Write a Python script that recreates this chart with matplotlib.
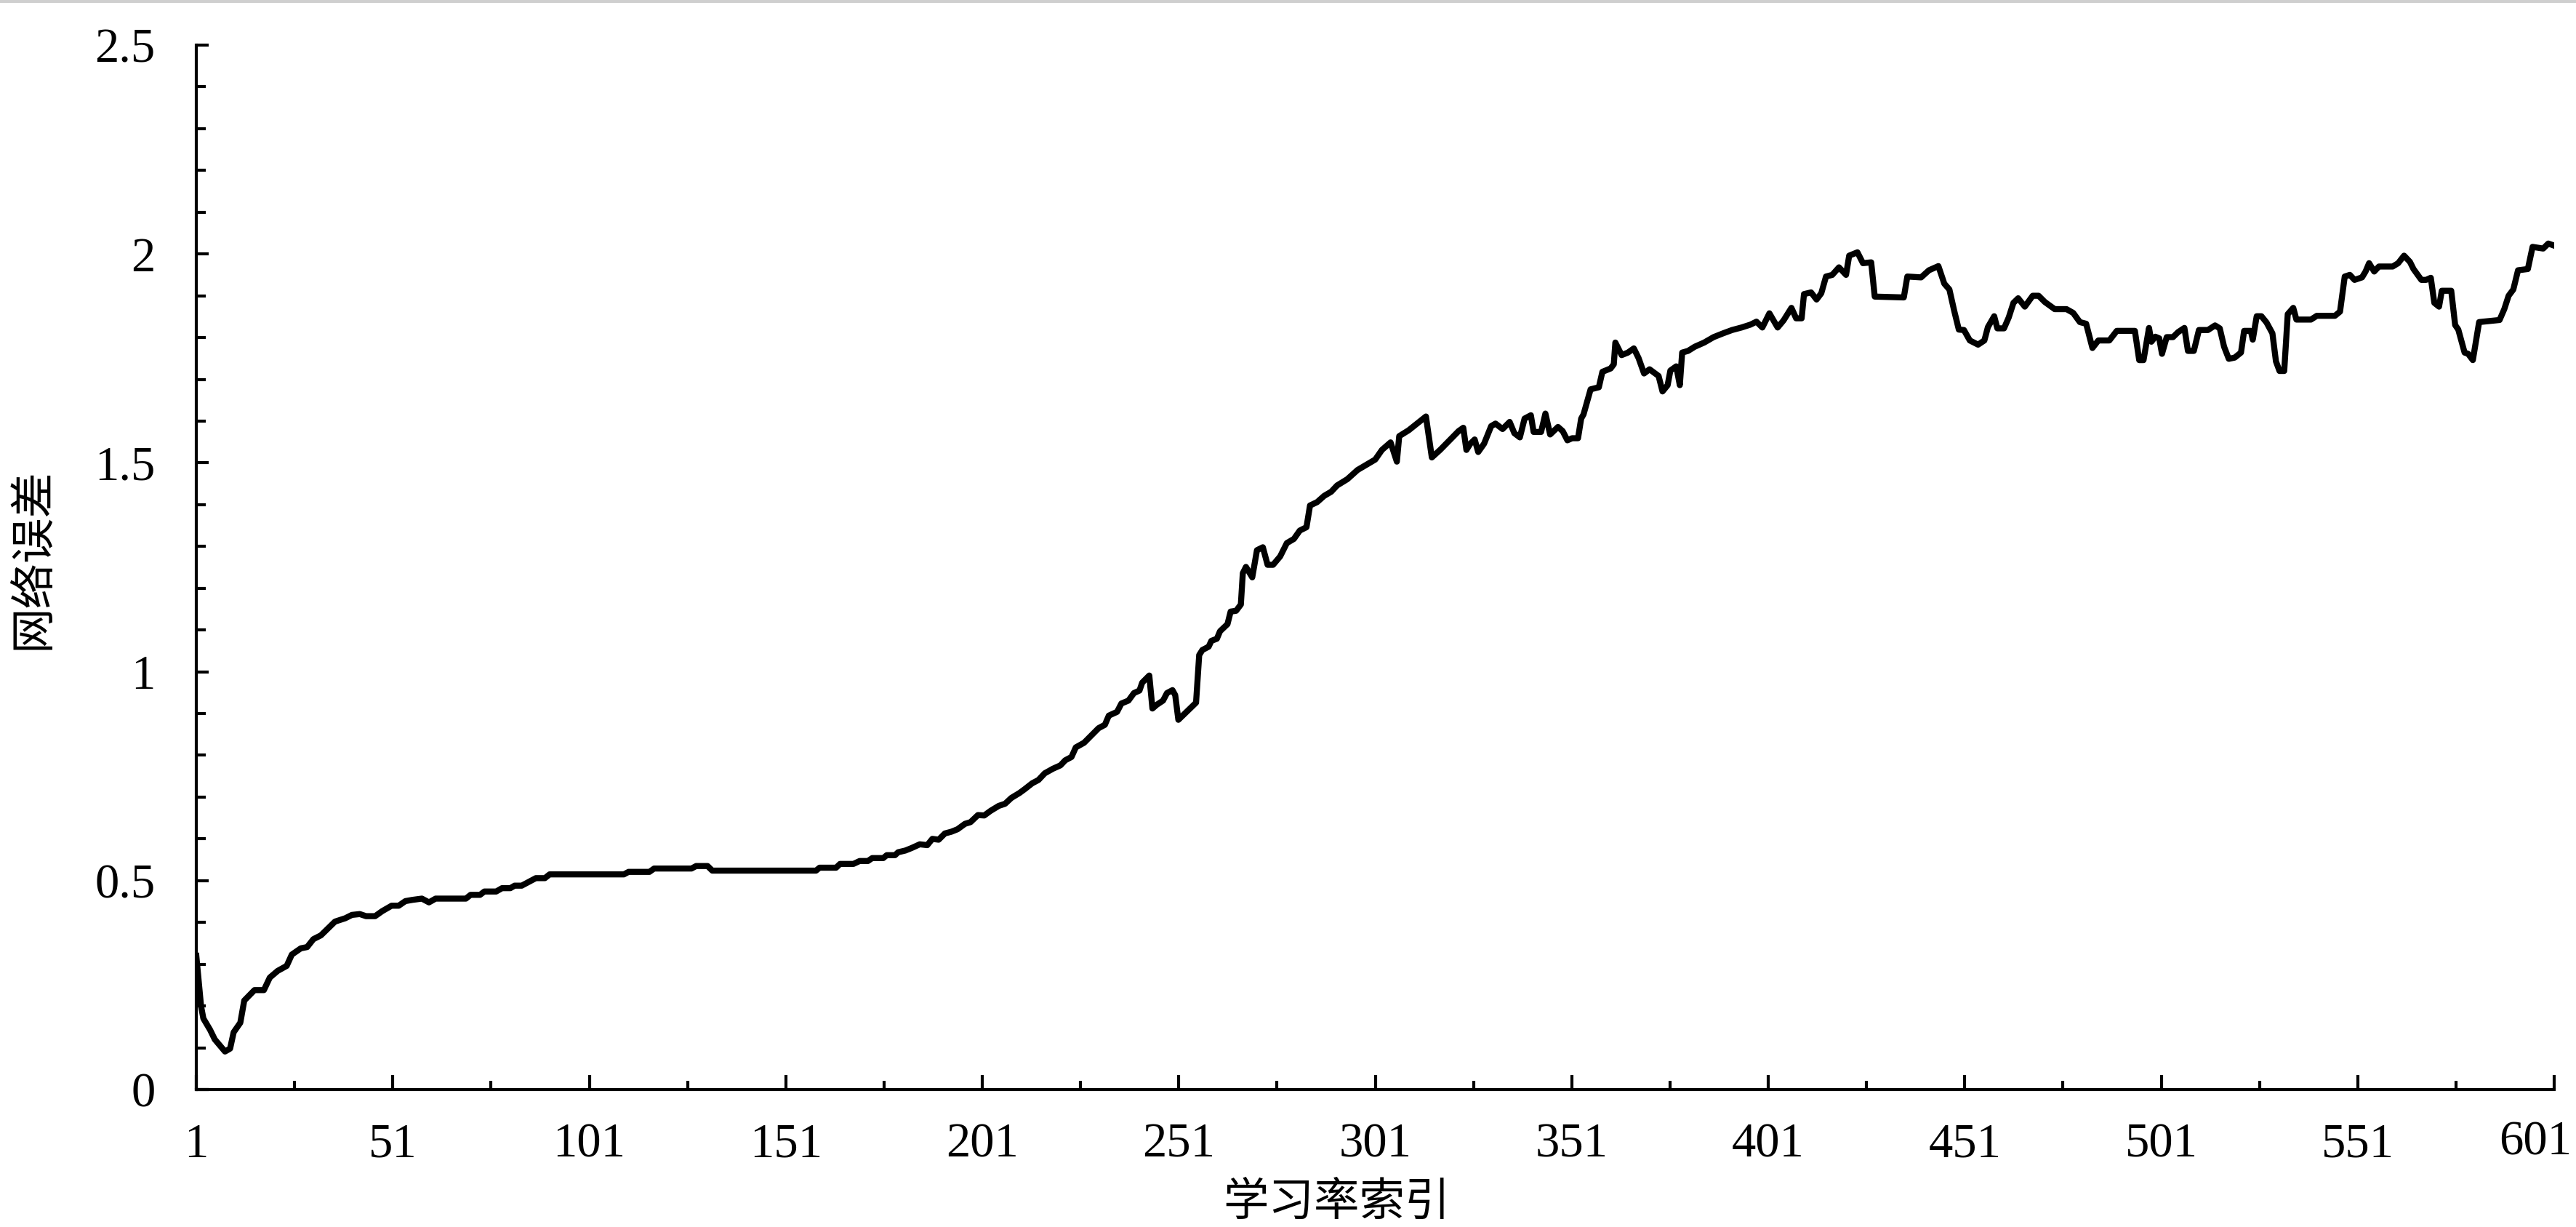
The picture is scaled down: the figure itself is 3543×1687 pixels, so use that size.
import numpy as np
import matplotlib
matplotlib.use("Agg")
import matplotlib.pyplot as plt
import matplotlib.transforms as mtransforms
from matplotlib.ticker import MultipleLocator, FixedLocator, FuncFormatter
from matplotlib.lines import Line2D

# 学习率索引 vs 网络误差
idx = [1, 2.2, 2.8, 4.5, 5.7, 8.3, 9.6, 10.5, 12.2, 13.2, 15.8, 18.2, 19.7, 21.7, 24, 25.3,
       27.6, 29.2, 30.8, 32.7, 36.3, 38.9, 40.6, 42.6, 44.2, 46.5, 48.3, 50.7, 52.5, 54.2,
       56, 58.4, 60.2, 61.9, 69.6, 70.8, 73.2, 74.3, 77.3, 78.8, 80.9, 82, 83.8, 85.6, 87.4,
       89.7, 90.9, 109.8, 111, 116.3, 117.5, 127, 128.2, 131.1, 132.3, 158.7,
       159.6, 163.8, 164.8, 168.2, 169.8, 171.9, 173, 175.8, 176.7, 178.8, 179.6, 181.4, 183,
       185.1, 187, 188.3, 189.9, 191.5, 193.1, 194.7, 196.6, 198, 199.9, 201.5, 203.1, 205.2,
       206.8, 208.4, 210.5, 211.8, 213.7, 215.3, 216.9, 219, 220.9, 222.1, 223.7, 224.8,
       226.9, 229, 230.6, 232.2, 233.2, 235.3, 236.4, 238.2, 239.6, 241, 241.7, 243.5, 244.3,
       245.4, 247, 248, 249.4, 250.1, 250.9, 255.4, 256.2, 257, 258.6, 259.3, 260.7, 261.5,
       263.4, 264.2, 265.6,
       266.8, 267.3, 268.1, 269.7, 270.9, 272.4, 273.6, 275, 276.8, 278.5, 280.3, 281.8, 283.5,
       284.4, 286.2, 288, 289.8, 291.3, 293.9, 296.5, 299.2, 301, 302.7, 304.9, 306.5, 307.1,
       309.5, 311.5, 313.9, 315.4, 317.5, 322.2, 323.4, 324.2, 325.2, 326.3, 327.2, 328.7,
       330.5, 331.6, 333.4, 335.2, 336.4, 337.8, 339, 340.6, 341.3, 343.2, 344.3, 345.5, 347.5,
       348.7, 349.9, 351.1, 352.6, 353.4, 354, 355.8, 357.9, 358.8, 360.9, 361.7, 362.1, 363.7,
       365.3, 366.8, 368, 369.4, 370.8, 373.1, 374.1, 375.4, 376.1, 377.6, 378.5, 379.1, 380.6,
       382.3, 384.7, 387.1, 389.5, 391.8, 394.2, 396.5, 398, 399.5, 401.3, 403.4, 404.9, 406.9,
       408.1, 409.5, 410.1, 411.9, 413.3, 414.5, 415.7, 417.3, 419, 420.8, 421.6, 423.7, 425.1,
       427.2, 428.1, 435.5, 436.4, 439.9, 441.9, 444.3,
       445.8, 447.1, 448.3, 449.5, 450.8, 452.3, 454.4, 456, 456.9, 458.5, 459.3, 461, 462.2,
       463.4, 464.6, 466.3, 468.3, 469.8, 471.4, 473.9, 476.9, 478.6, 480.3, 481.9, 483.5, 485,
       487.8, 489.7, 494.3, 495.4, 496.5, 497.9, 498.5, 499.5, 500.5, 501.2, 502.4, 504, 505.3,
       506.9, 507.8, 509.3, 510.6, 512.9, 514.7, 515.9, 517, 518.2, 519.7, 521.3, 522.1, 523.8,
       524.3, 525.3, 526.5, 527.8, 529.3, 530.2, 531.1, 532.3, 533.2, 534.6, 535.4, 539.1,
       540.6, 545.2, 546.5, 547.7, 549, 550.2, 552.1, 553, 553.9, 555.2, 556.4, 559.9, 561.3,
       562.8, 564.3, 565.2, 567.2, 568.4, 569.6, 570.5, 571.7, 572.4, 574.8, 575.8, 576.6,
       578.2, 579.1, 580.3, 581.9, 587.1, 588.3, 589.4, 590.6, 591.8, 594.3, 595.5, 598.2,
       599.5, 600.7]

err = [0.32, 0.20, 0.17, 0.143, 0.12, 0.091, 0.098, 0.137, 0.16, 0.213, 0.238, 0.238, 0.268,
       0.284, 0.296, 0.323, 0.338, 0.341, 0.36, 0.369, 0.402, 0.41, 0.418, 0.42, 0.415, 0.415,
       0.427, 0.44, 0.44, 0.451, 0.454, 0.457, 0.448, 0.457, 0.457, 0.466, 0.466, 0.474, 0.474,
       0.482, 0.482, 0.488, 0.488, 0.497, 0.506, 0.506, 0.515, 0.515, 0.521, 0.521, 0.529, 0.529,
       0.535, 0.535, 0.524, 0.524,
       0.531, 0.531, 0.540, 0.540, 0.547, 0.547, 0.554, 0.554, 0.561, 0.561, 0.568, 0.572,
       0.578, 0.587, 0.585, 0.600, 0.598, 0.613, 0.617, 0.623, 0.636, 0.640, 0.657, 0.656,
       0.667, 0.679, 0.684, 0.698, 0.710, 0.719, 0.733, 0.741, 0.757, 0.768, 0.776, 0.788,
       0.796, 0.819, 0.830, 0.850, 0.865, 0.873, 0.895, 0.904, 0.924, 0.931, 0.949, 0.955,
       0.974, 0.991, 0.912, 0.921, 0.931, 0.949, 0.956, 0.944, 0.885, 0.926, 1.040, 1.052,
       1.060, 1.074, 1.079, 1.097, 1.114, 1.144, 1.146,
       1.161, 1.236, 1.251, 1.226, 1.291, 1.298, 1.256, 1.256, 1.276, 1.308, 1.318, 1.338,
       1.346, 1.398, 1.406, 1.421, 1.431, 1.446, 1.461, 1.483, 1.498, 1.508, 1.531, 1.549,
       1.503, 1.564, 1.578, 1.593, 1.611, 1.513, 1.531, 1.576, 1.584, 1.531, 1.546, 1.556,
       1.526, 1.546, 1.588, 1.594, 1.581, 1.598, 1.571, 1.561, 1.606, 1.614, 1.574, 1.574,
       1.618, 1.568, 1.586, 1.576, 1.554, 1.559, 1.559, 1.606, 1.616, 1.676, 1.681, 1.718,
       1.726, 1.736, 1.788, 1.758, 1.764, 1.774, 1.751, 1.714, 1.724, 1.708, 1.671, 1.686,
       1.721, 1.731, 1.686, 1.764, 1.768, 1.778, 1.788, 1.801, 1.810, 1.818, 1.824, 1.831,
       1.838, 1.824, 1.858, 1.824, 1.841, 1.871, 1.846, 1.846, 1.904, 1.908, 1.891, 1.906,
       1.946, 1.950, 1.968, 1.950, 1.996, 2.004, 1.978, 1.98, 1.898, 1.896, 1.946, 1.944,
       1.961, 1.971,
       1.929, 1.915, 1.865, 1.819, 1.818, 1.793, 1.783, 1.793, 1.825, 1.851, 1.822, 1.822,
       1.848, 1.883, 1.894, 1.874, 1.900, 1.900, 1.885, 1.868, 1.868, 1.859, 1.837, 1.833,
       1.775, 1.793, 1.793, 1.816, 1.816, 1.746, 1.746, 1.823, 1.790, 1.802, 1.798, 1.761,
       1.801, 1.801, 1.813, 1.823, 1.768, 1.768, 1.818, 1.818, 1.829, 1.822, 1.778, 1.749,
       1.752, 1.764, 1.816, 1.816, 1.795, 1.851, 1.851, 1.836, 1.810, 1.743, 1.720, 1.720,
       1.856, 1.871, 1.843, 1.843, 1.852, 1.852, 1.862, 1.946, 1.95, 1.938, 1.944, 1.958,
       1.978, 1.958, 1.970, 1.970, 1.978, 1.996, 1.981, 1.964, 1.938, 1.938, 1.943, 1.883,
       1.874, 1.912, 1.912, 1.830, 1.819, 1.764, 1.761, 1.746, 1.837, 1.842, 1.868, 1.900,
       1.915, 1.961, 1.964, 2.017, 2.013, 2.025, 2.021]

x_major = [1, 51, 101, 151, 201, 251, 301, 351, 401, 451, 501, 551, 601]
x_minor = [26, 76, 126, 176, 226, 276, 326, 376, 426, 476, 526, 576]

plt.rcParams['font.family'] = ['Liberation Serif', 'DejaVu Serif']
cjk = ['Noto Sans CJK SC', 'DejaVu Sans']

W, H = 3543, 1687
fig = plt.figure(figsize=(W / 300, H / 300), dpi=300)
ax = fig.add_axes([270 / W, 1 - 1498 / H, (3513 - 270) / W, (1498 - 62) / H])

ax.plot(idx, err, color='black', linewidth=2.0, solid_joinstyle='round')

ax.set_xlim(1, 601)
ax.set_ylim(0, 2.5)

ax.xaxis.set_major_locator(FixedLocator(x_major))
ax.xaxis.set_minor_locator(FixedLocator(x_minor))
ax.yaxis.set_major_locator(MultipleLocator(0.5))
ax.yaxis.set_minor_locator(MultipleLocator(0.1))
ax.yaxis.set_major_formatter(FuncFormatter(lambda v, p: f"{v:g}"))

for s in ['top', 'right']:
    ax.spines[s].set_visible(False)
for s in ['left', 'bottom']:
    ax.spines[s].set_linewidth(1.0)

ax.tick_params(axis='x', which='major', direction='in', length=4.8, width=1.0,
               labelsize=16, pad=11)
ax.tick_params(axis='x', which='minor', direction='in', length=2.8, width=1.0)
ax.tick_params(axis='y', which='major', direction='in', length=4.0, width=1.0,
               labelsize=16, pad=13.5)
ax.tick_params(axis='y', which='minor', direction='in', length=3.0, width=1.0)

# the last label (601) sits flush with the right edge, as in the reference
fig.canvas.draw()
last = ax.get_xticklabels()[-1]
last.set_transform(last.get_transform() +
                   mtransforms.ScaledTranslation(-26 / 300, 3 / 300, fig.dpi_scale_trans))

ax.set_xlabel('学习率索引', family=cjk, fontsize=15)
ax.xaxis.set_label_coords((1838 - 270) / (3513 - 270), -(1653 - 1498) / (1498 - 62))
ax.xaxis.label.set_va('center')
ax.set_ylabel('网络误差', family=cjk, fontsize=15)
ax.yaxis.set_label_coords(-(270 - 44) / (3513 - 270), (1498 - 768) / (1498 - 62))
ax.yaxis.label.set_va('center')

# thin grey strip at the top edge
fig.add_artist(Line2D([0, 1], [1 - 2 / H, 1 - 2 / H], transform=fig.transFigure,
                      color='#cfcfcf', linewidth=1.0))

fig.savefig('out.png', dpi=300, facecolor='white')
